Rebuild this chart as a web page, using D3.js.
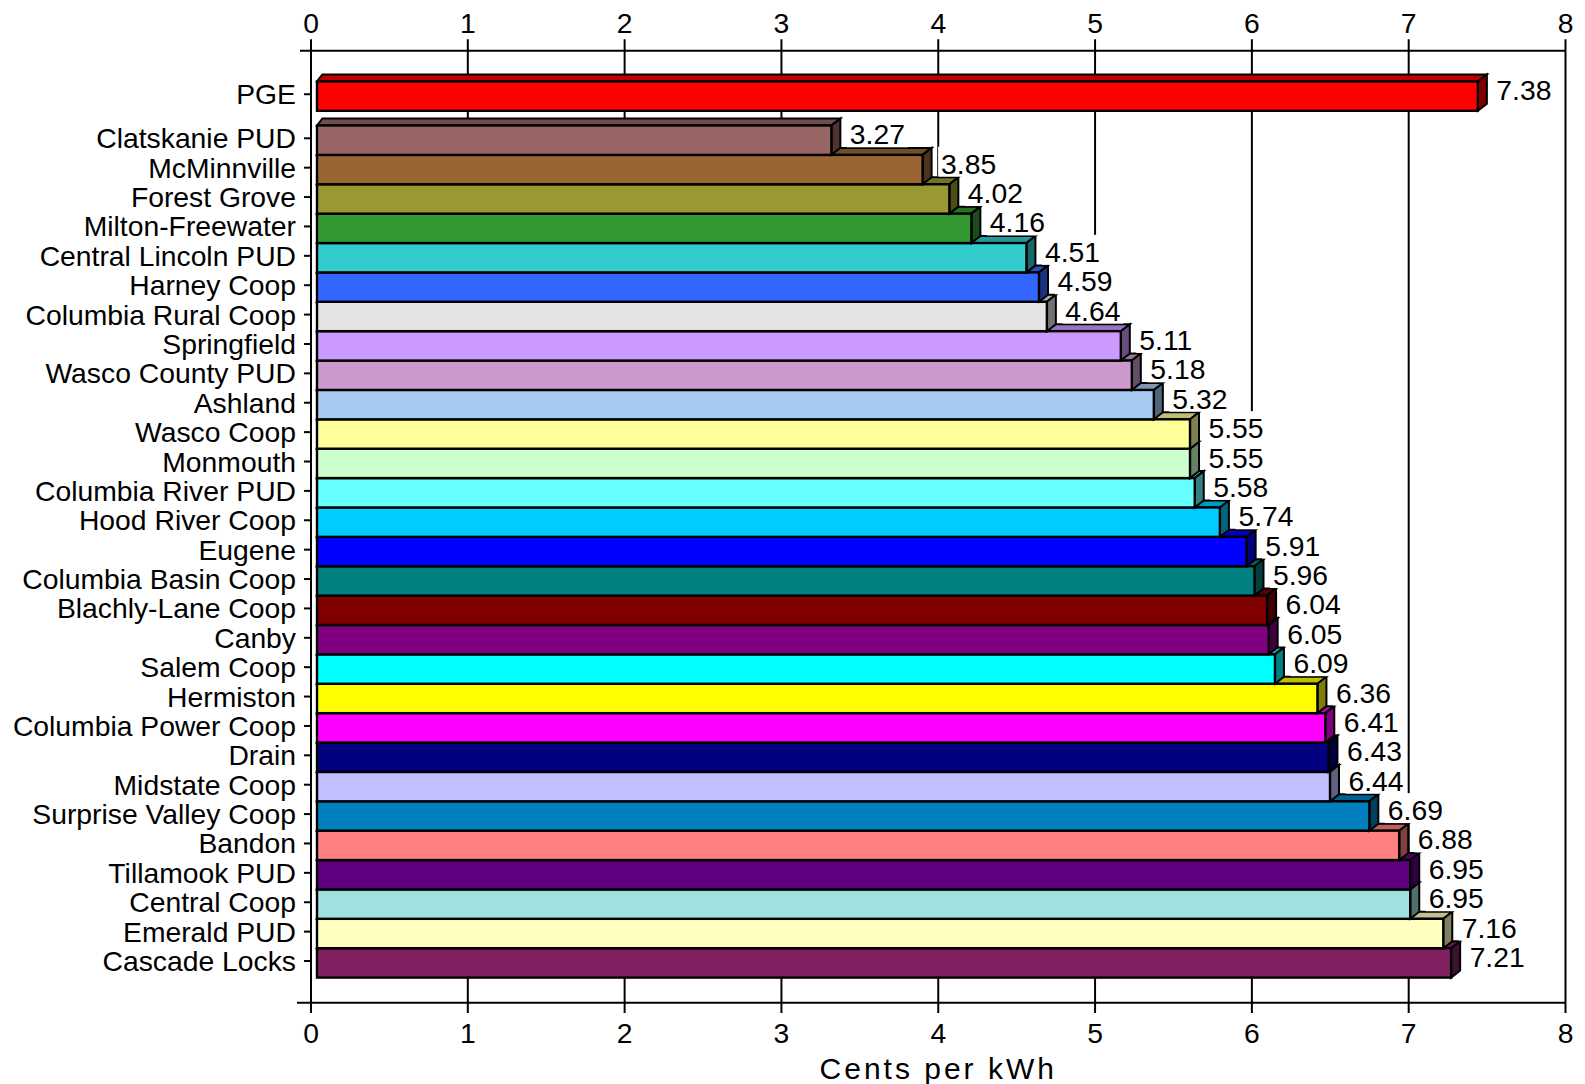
<!DOCTYPE html>
<html>
<head>
<meta charset="utf-8">
<script src="https://cdn.jsdelivr.net/npm/d3@7"></script>
<style>
  html, body { margin: 0; padding: 0; background: #ffffff; }
  svg { display: block; }
  text { font-family: "Liberation Sans", Arial, sans-serif; fill: #000; }
</style>
</head>
<body>
<svg id="chart" width="1585" height="1084"></svg>
<script>
// ---------------- data ----------------
const categories = [
  "PGE",
  "Clatskanie PUD", "McMinnville", "Forest Grove", "Milton-Freewater",
  "Central Lincoln PUD", "Harney Coop", "Columbia Rural Coop", "Springfield",
  "Wasco County PUD", "Ashland", "Wasco Coop", "Monmouth", "Columbia River PUD",
  "Hood River Coop", "Eugene", "Columbia Basin Coop", "Blachly-Lane Coop",
  "Canby", "Salem Coop", "Hermiston", "Columbia Power Coop", "Drain",
  "Midstate Coop", "Surprise Valley Coop", "Bandon", "Tillamook PUD",
  "Central Coop", "Emerald PUD", "Cascade Locks"
];
const values = [
  7.38,
  3.27, 3.85, 4.02, 4.16,
  4.51, 4.59, 4.64, 5.11,
  5.18, 5.32, 5.55, 5.55, 5.58,
  5.74, 5.91, 5.96, 6.04,
  6.05, 6.09, 6.36, 6.41, 6.43,
  6.44, 6.69, 6.88, 6.95,
  6.95, 7.16, 7.21
];
const barColors = [
  "#ff0000",
  "#996666", "#996633", "#999933", "#339933",
  "#33cccc", "#3366ff", "#e3e3e3", "#cc99ff",
  "#cc99cc", "#a6caf0", "#ffff99", "#ccffcc", "#66ffff",
  "#00ccff", "#0000ff", "#008080", "#800000",
  "#800080", "#00ffff", "#ffff00", "#ff00ff", "#000080",
  "#c0c0ff", "#0080c0", "#ff8080", "#600080",
  "#a0e0e0", "#ffffc0", "#802060"
];
const tickValues = [0, 1, 2, 3, 4, 5, 6, 7, 8];
const axisTitle = "Cents per kWh";

// ---------------- layout ----------------
const svg = d3.select("#chart");
const FONT = 28.3;
const topAxisY = 50.7, bottomAxisY = 1002.7;
const gridTop = 39.3, gridBottom = 1013;
const DX = 9, DY = 7;

const x = d3.scaleLinear().domain([0, 8]).range([311, 1565.5]);
// front face of the 3-D bars is drawn slightly in front of the grid wall
const xF = d3.scaleLinear().domain([0, 8]).range([317, 317 + 8 * 157.3]);
// slot positions: PGE sits 1.5 slots above the rest
const slot = i => (i === 0 ? -1.5 : i - 1);
const y = d3.scaleLinear().domain([0, 28]).range([138.3, 961]);
const step = y(1) - y(0);

function shade(c, k) {
  const r = d3.rgb(c);
  return d3.rgb(r.r * k, r.g * k, r.b * k).formatHex();
}

// ---------------- grid lines ----------------
const grid = svg.append("g");
grid.selectAll("line")
  .data(tickValues)
  .join("line")
  .attr("x1", d => x(d)).attr("x2", d => x(d))
  .attr("y1", gridTop).attr("y2", gridBottom)
  .attr("stroke", "#000").attr("stroke-width", 2);

// axis lines
svg.append("line")
  .attr("x1", x(0) - 11).attr("x2", x(8))
  .attr("y1", topAxisY).attr("y2", topAxisY)
  .attr("stroke", "#000").attr("stroke-width", 2);
svg.append("line")
  .attr("x1", x(0) - 14).attr("x2", x(8))
  .attr("y1", bottomAxisY).attr("y2", bottomAxisY)
  .attr("stroke", "#000").attr("stroke-width", 2);

// tick labels
svg.append("g").selectAll("text")
  .data(tickValues).join("text")
  .attr("x", d => x(d)).attr("y", 33)
  .attr("text-anchor", "middle")
  .style("font-size", FONT + "px")
  .text(d => d);
svg.append("g").selectAll("text")
  .data(tickValues).join("text")
  .attr("x", d => x(d)).attr("y", 1043.3)
  .attr("text-anchor", "middle")
  .style("font-size", FONT + "px")
  .text(d => d);

// axis title
svg.append("text")
  .attr("x", x(4)).attr("y", 1079)
  .attr("text-anchor", "middle")
  .style("font-size", "30px")
  .style("letter-spacing", "3px")
  .text(axisTitle);

// ---------------- category axis ----------------
const rows = categories.map((name, i) => ({ name, value: values[i], color: barColors[i], pos: slot(i) }));

svg.append("g").selectAll("line")
  .data(rows).join("line")
  .attr("x1", x(0) - 7).attr("x2", x(0))
  .attr("y1", d => y(d.pos)).attr("y2", d => y(d.pos))
  .attr("stroke", "#000").attr("stroke-width", 2);

svg.append("g").selectAll("text")
  .data(rows).join("text")
  .attr("x", 296)
  .attr("y", d => y(d.pos) + 10)
  .attr("text-anchor", "end")
  .style("font-size", FONT + "px")
  .text(d => d.name);

// ---------------- 3-D bars (drawn bottom to top) ----------------
const barsG = svg.append("g");
const drawOrder = rows.slice().reverse();
drawOrder.forEach(d => {
  const x0 = xF(0), x1 = xF(d.value);
  const yt = y(d.pos) - 12.8, yb = yt + step;
  const g = barsG.append("g");
  // top face
  g.append("polygon")
    .attr("points", [[x0, yt], [x0 + DX * 0.6, yt - DY], [x1 + DX, yt - DY], [x1, yt]].map(p => p.join(",")).join(" "))
    .attr("fill", shade(d.color, 0.75))
    .attr("stroke", "#000").attr("stroke-width", 2).attr("stroke-linejoin", "miter");
  // side face
  g.append("polygon")
    .attr("points", [[x1, yt], [x1 + DX, yt - DY], [x1 + DX, yb - DY], [x1, yb]].map(p => p.join(",")).join(" "))
    .attr("fill", shade(d.color, 0.5))
    .attr("stroke", "#000").attr("stroke-width", 2).attr("stroke-linejoin", "miter");
  // front face
  g.append("rect")
    .attr("x", x0).attr("y", yt)
    .attr("width", x1 - x0).attr("height", yb - yt)
    .attr("fill", d.color)
    .attr("stroke", "#000").attr("stroke-width", 2.4);
});

// ---------------- value labels (opaque white boxes) ----------------
const labelsG = svg.append("g");
const lab = labelsG.selectAll("g")
  .data(rows).join("g");
lab.append("rect")
  .attr("class", "bg")
  .attr("fill", "#ffffff");
lab.append("text")
  .attr("x", d => xF(d.value) + DX + 9.5)
  .attr("y", d => y(d.pos) + 6)
  .style("font-size", FONT + "px")
  .text(d => d3.format(".2f")(d.value));
lab.each(function(d) {
  const t = d3.select(this).select("text").node();
  const bb = t.getBBox();
  d3.select(this).select("rect")
    .attr("x", bb.x - 3)
    .attr("y", y(d.pos) - 21)
    .attr("width", bb.width + 6)
    .attr("height", 30);
});
</script>
</body>
</html>
